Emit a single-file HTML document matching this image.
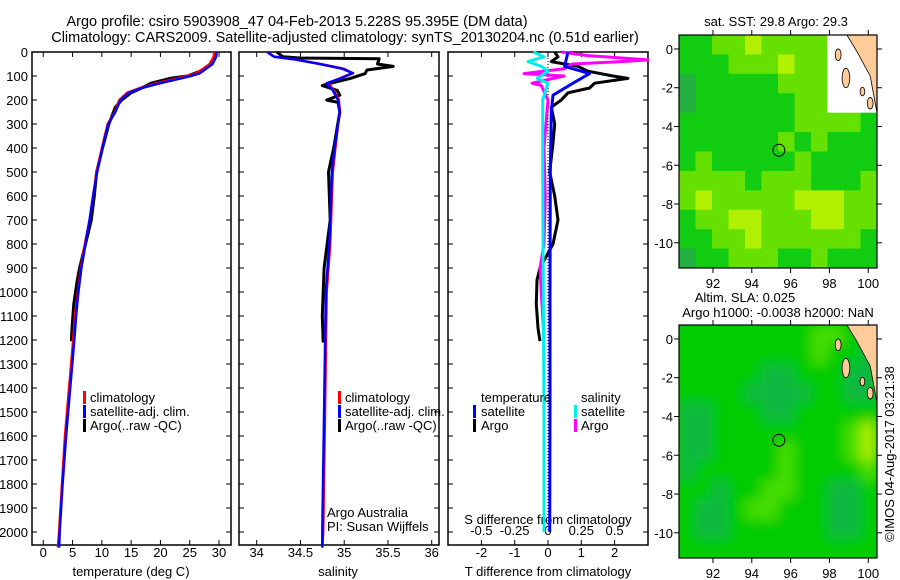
<!DOCTYPE html>
<html><head><meta charset="utf-8">
<style>
body{margin:0;background:#fff;}
svg{display:block;font-family:"Liberation Sans",sans-serif;}
text{font-size:13px;fill:#000;}
</style></head>
<body>
<svg id="chart" width="900" height="580" viewBox="0 0 900 580" xmlns="http://www.w3.org/2000/svg">
<text x="297" y="26" text-anchor="middle" style="font-size:14.5px">Argo profile: csiro 5903908_47 04-Feb-2013 5.228S 95.395E (DM data)</text>
<text x="345" y="42" text-anchor="middle" style="font-size:14.5px">Climatology: CARS2009. Satellite-adjusted climatology: synTS_20130204.nc (0.51d earlier)</text>
<text x="776" y="26" text-anchor="middle">sat. SST: 29.8 Argo: 29.3</text>
<text x="745" y="302" text-anchor="middle">Altim. SLA: 0.025</text>
<text x="778" y="317" text-anchor="middle">Argo h1000: -0.0038 h2000: NaN</text>
<text transform="translate(894,454) rotate(-90)" text-anchor="middle">©IMOS 04-Aug-2017 03:21:38</text>
<g id="plots"></g>
</svg>
<script>
// ---- data ----
const tDepth = [0,20,50,70,90,100,130,150,170,200,250,300,400,500,600,700,800,900,1000,1100,1200,1400,1600,1800,2000,2065];
const tClim  = [29.2,29.1,28.4,27.3,26,24.5,19.4,16.5,14.3,13,12.2,11,10,9.1,8.5,7.9,7.1,6.4,5.9,5.4,5.1,4.4,3.7,3.2,2.7,2.5];
const tSat   = [29.6,29.5,28.9,27.8,26.6,25.2,20.0,16.8,14.6,13.2,12.3,11.1,10.1,9.2,8.5,7.9,7.2,6.5,6.0,5.6,5.3,4.6,3.9,3.3,2.8,2.7];
const tArgoDepth = [0,20,40,60,80,100,110,130,150,170,200,230,300,400,500,600,700,800,900,950,1050,1150,1205];
const tArgo  = [29.4,29.4,29.0,28.2,26.8,24.6,21.6,18.4,16.8,15.0,13.4,12.3,11.2,10.1,9.1,8.7,8.2,7.2,6.2,5.8,5.2,4.9,4.8];
const sDepth = [0,20,30,50,70,88,110,130,160,200,250,300,400,500,600,800,1000,1500,2000,2065];
const sClim  = [34.12,34.2,34.42,34.73,35.0,35.09,34.95,34.82,34.88,34.94,34.95,34.93,34.9,34.87,34.86,34.84,34.8,34.78,34.76,34.75];
const sSat   = [34.12,34.2,34.42,34.72,34.98,35.1,34.96,34.8,34.87,34.93,34.95,34.93,34.89,34.86,34.85,34.83,34.79,34.77,34.75,34.75];
const sArgoDepth = [0,20,25,28,50,60,75,90,110,125,140,160,180,200,210,250,400,500,700,900,1000,1100,1210];
const sArgo  = [34.23,34.3,34.49,35.4,35.38,35.56,35.26,35.24,35.07,34.9,34.75,34.92,34.95,34.8,34.93,34.95,34.88,34.82,34.84,34.77,34.76,34.75,34.76];
const dTDepth = [0,20,40,60,80,100,110,130,150,170,200,230,300,380,500,600,700,800,900,950,1050,1150,1205];
const dTArgo = [0.2,0.3,0.1,0.9,1.2,1.95,2.4,1.4,1.25,0.6,0.4,0.1,0.2,0.15,0.05,0.2,0.3,0.15,-0.24,-0.33,-0.35,-0.3,-0.24];
const dTSatDepth = [0,30,60,90,130,180,250,500,1000,1500,2000];
const dTSat  = [0.6,0.55,0.5,1.25,0.75,0.15,0.1,0.07,0.06,0.06,0.05];
const dSDepth = [0,15,33,40,50,70,90,100,130,140,200,400,600,800,900,1000,1100,1200];
const dSArgo = [0.1,0.3,0.75,0.55,0.18,0.12,-0.18,0.12,-0.12,-0.05,0,-0.03,-0.02,-0.03,-0.06,-0.05,-0.04,-0.03];
const dSSatDepth = [0,20,40,60,80,110,130,200,500,1000,1500,2000];
const dSSat  = [-0.11,-0.03,-0.15,-0.05,0,-0.08,0,-0.04,-0.04,-0.035,-0.03,-0.03];
const depthTicks = [0,100,200,300,400,500,600,700,800,900,1000,1100,1200,1300,1400,1500,1600,1700,1800,1900,2000];
const tTicks = [0,5,10,15,20,25,30];
const sTicks = [34,34.5,35,35.5,36];
const dTTicks = [-2,-1,0,1,2];
const dSTicks = [-0.5,-0.25,0,0.25,0.5];
const lonTicks = [92,94,96,98,100];
const latTicks = [0,-2,-4,-6,-8,-10];
// SST grid levels (rows lat 0.7 -> -11.3, cols lon 90.25 -> 100.45); 9 = no data
const sstGrid = [
[1,1,2,2,3,2,2,2,2,9,9,9],
[1,1,1,2,2,2,3,2,2,9,9,9],
[0,1,1,1,1,1,2,2,2,9,9,9],
[0,1,1,1,1,1,1,2,2,9,9,9],
[1,1,1,1,1,1,1,2,2,2,2,1],
[1,1,1,1,1,1,2,1,2,1,1,1],
[1,2,1,1,1,1,1,2,1,1,1,1],
[2,2,2,2,1,2,2,2,1,1,1,2],
[2,3,2,2,2,2,2,3,3,3,2,2],
[1,2,2,3,3,2,2,2,3,3,2,2],
[1,1,2,2,3,2,2,2,2,2,2,1],
[0,1,1,2,2,2,1,1,2,1,1,1]];
const slaGrid = [
[1,1,1,1,1,1,1,1,2,2,1,1],
[1,1,1,1,1,1,1,1,2,1,1,0],
[1,1,1,1,1,0,0,1,1,1,0,0],
[1,1,1,1,0,0,0,0,1,1,0,0],
[0,0,1,1,1,0,0,1,1,1,1,1],
[0,0,1,1,1,1,1,1,1,1,2,3],
[0,0,1,1,1,1,2,1,1,1,2,3],
[0,1,1,1,1,1,2,1,1,1,1,2],
[1,1,0,1,1,2,2,1,1,0,0,1],
[1,0,0,1,2,2,1,1,1,0,0,1],
[1,0,0,1,1,1,1,1,1,0,0,1],
[1,1,1,1,1,1,1,1,1,1,1,1]];
const sstColors = ["#22b040","#11cc11","#66e000","#b0f000"];
const slaColors = ["#10b840","#00cc00","#44dd00","#aaee00"];

// ---- drawing ----
const NS="http://www.w3.org/2000/svg";
const root=document.getElementById('plots');
function el(tag,attrs,parent){const e=document.createElementNS(NS,tag);for(const k in attrs)e.setAttribute(k,attrs[k]);(parent||root).appendChild(e);return e;}
function lin(d0,d1,r0,r1){return v=>r0+(v-d0)/(d1-d0)*(r1-r0);}
const Y=lin(0,2000,52,532);
const TOP=52,BOT=545;

function panel(x0,x1,name){
  const r=el('rect',{x:x0,y:TOP,width:x1-x0,height:BOT-TOP,fill:'none',stroke:'#000','stroke-width':1.5});
  
  
}
function xTicks(ticks,X,x0,x1,labelY,name,top){
  ticks.forEach(t=>{
    const x=X(t);
    el('line',{x1:x,x2:x,y1:BOT,y2:BOT-5,stroke:'#000'});
    if(top) el('line',{x1:x,x2:x,y1:TOP,y2:TOP+5,stroke:'#000'});
    if(labelY){const tx=el('text',{x:x,y:labelY,'text-anchor':'middle'});tx.textContent=String(t);
      
      }
  });
}
function series(depths,vals,X,color,name,w){
  const p=el('polyline',{points:depths.map((d,i)=>X(vals[i]).toFixed(1)+','+Y(d).toFixed(1)).join(' '),fill:'none',stroke:color,'stroke-width':w||2.5,'stroke-linejoin':'round'});
  
  
}
function label(x,y,s,name,anchor){const t=el('text',{x:x,y:y,'text-anchor':anchor||'start'});t.textContent=s;
  
  return t;}
function legBar(x,y,color){el('rect',{x:x,y:y-11,width:3,height:13,fill:color});}

// panel 1: temperature
const XT=lin(0,30,43.3,219);
panel(32,231,'temperature-panel');
depthTicks.forEach(d=>{el('line',{x1:32,x2:37,y1:Y(d),y2:Y(d),stroke:'#000'});el('line',{x1:231,x2:226,y1:Y(d),y2:Y(d),stroke:'#000'});
  label(28,Y(d)+5,String(d),'depth-tick-label','end');});
xTicks(tTicks,XT,32,231,557,'temperature-tick-label',true);
label(131,576,'temperature (deg C)','temperature-axis-title','middle');
series(tArgoDepth,tArgo,XT,'#000','temperature-argo-line',3);
series(tDepth,tClim,XT,'#f00','temperature-climatology-line');
series(tDepth,tSat,XT,'#00f','temperature-satellite-line');
legBar(83,402,'#f00');label(90,402,'climatology','legend-climatology');
legBar(83,416,'#00f');label(90,416,'satellite-adj. clim.','legend-satellite');
legBar(83,430,'#000');label(90,430,'Argo(..raw -QC)','legend-argo');

// panel 2: salinity
const XS=lin(34,36,256.7,431.7);
panel(239,439,'salinity-panel');
depthTicks.forEach(d=>{el('line',{x1:239,x2:244,y1:Y(d),y2:Y(d),stroke:'#000'});el('line',{x1:439,x2:434,y1:Y(d),y2:Y(d),stroke:'#000'});});
xTicks(sTicks,XS,239,439,557,'salinity-tick-label',true);
label(338,576,'salinity','salinity-axis-title','middle');
series(sArgoDepth,sArgo,XS,'#000','salinity-argo-line',3);
series(sDepth,sClim,XS,'#f00','salinity-climatology-line');
series(sDepth,sSat,XS,'#00f','salinity-satellite-line');
legBar(338,402,'#f00');label(345,402,'climatology','legend-climatology');
legBar(338,416,'#00f');label(345,416,'satellite-adj. clim.','legend-satellite');
legBar(338,430,'#000');label(345,430,'Argo(..raw -QC)','legend-argo');
label(327,517,'Argo Australia','credit-argo-australia');
label(327,531,'PI: Susan Wijffels','credit-pi');

// panel 3: differences
const XD=lin(0,1,548,581.3);
const XDS=v=>XD(v*4);
panel(448,648,'difference-panel');
depthTicks.forEach(d=>{el('line',{x1:448,x2:453,y1:Y(d),y2:Y(d),stroke:'#000'});el('line',{x1:648,x2:643,y1:Y(d),y2:Y(d),stroke:'#000'});});
xTicks(dTTicks,XD,448,648,557,'t-diff-tick-label',true);
dSTicks.forEach(t=>label(XDS(t),535,String(t),'s-diff-tick-label','middle'));
label(548,524,'S difference from climatology','s-diff-axis-title','middle');
label(548,576,'T difference from climatology','t-diff-axis-title','middle');
el('line',{x1:XD(0),x2:XD(0),y1:TOP,y2:Y(2000),stroke:'#000','stroke-dasharray':'1,2'});
series(dTDepth,dTArgo,XD,'#000','t-diff-argo-line',3);
series(dSDepth,dSArgo,XDS,'#f0f','s-diff-argo-line',3);
series(dTSatDepth,dTSat,XD,'#00f','t-diff-satellite-line',3);
series(dSSatDepth,dSSat,XDS,'#0ee','s-diff-satellite-line',3);
label(481,402,'temperature','legend-temperature-header');
legBar(473,416,'#00f');label(481,416,'satellite','legend-t-satellite');
legBar(473,430,'#000');label(481,430,'Argo','legend-t-argo');
label(581,402,'salinity','legend-salinity-header');
legBar(574,416,'#0ee');label(581,416,'satellite','legend-s-satellite');
legBar(574,430,'#f0f');label(581,430,'Argo','legend-s-argo');

// maps
function map(top,grid,colors,name,blur){
  const x0=679,x1=877,h=233;
  const LON=lin(90.25,100.45,x0,x1), LAT=lin(0.72,-11.3,top,top+h);
  const g=el('g',{});
  
  
  const cid='clip'+top;
  const cp=el('clipPath',{id:cid},g);el('rect',{x:x0,y:top,width:x1-x0,height:h},cp);
  const cells=el('g',{'clip-path':'url(#'+cid+')'},g);
  el('rect',{x:x0,y:top,width:x1-x0,height:h,fill:colors[1]},cells);
  const inner=el('g',blur?{filter:'url(#bl)'}:{},cells);
  const cw=(x1-x0)/grid[0].length, ch=h/grid.length;
  grid.forEach((row,r)=>row.forEach((v,c)=>{
    el('rect',{x:x0+c*cw,y:top+r*ch,width:cw+0.6,height:ch+0.6,fill:v===9?'#fff':colors[v]},inner);
  }));
  if(!blur) el('rect',{x:LON(97.9),y:top,width:LON(100.45)-LON(97.9),height:LAT(-2.9)-top,fill:'#fff'},cells);
  el('polygon',{points:[[98.9,0.72],[99.4,-0.1],[100.1,-1.4],[100.45,-3.3],[100.45,0.72]].map(p=>LON(p[0])+','+LAT(p[1])).join(' '),fill:'#ffcc99',stroke:'#000','stroke-width':0.8},cells);
  [[98.45,-0.3,0.15,0.3],[98.85,-1.5,0.2,0.5],[99.7,-2.2,0.12,0.22],[100.1,-2.8,0.15,0.3]].forEach(e=>el('ellipse',{cx:LON(e[0]),cy:LAT(e[1]),rx:e[2]*19.4,ry:e[3]*19.4,fill:'#ffcc99',stroke:'#000','stroke-width':0.8},cells));
  el('circle',{cx:LON(95.395),cy:LAT(-5.228),r:6,fill:'none',stroke:'#000','stroke-width':1},g);
  el('rect',{x:x0,y:top,width:x1-x0,height:h,fill:'none',stroke:'#000','stroke-width':1.2},g);
  lonTicks.forEach(t=>{el('line',{x1:LON(t),x2:LON(t),y1:top+h,y2:top+h+5,stroke:'#000'},g);el('line',{x1:LON(t),x2:LON(t),y1:top,y2:top-5,stroke:'#000'},g);
    label(LON(t),top+h+20,String(t),'lon-tick-label','middle');});
  latTicks.forEach(t=>{el('line',{x1:x0,x2:x0-5,y1:LAT(t),y2:LAT(t),stroke:'#000'},g);el('line',{x1:x1,x2:x1+5,y1:LAT(t),y2:LAT(t),stroke:'#000'},g);
    label(673,LAT(t)+5,String(t),'lat-tick-label','end');});
}
const defs=el('defs',{});const f=el('filter',{id:'bl',x:'0',y:'0',width:'1',height:'1'},defs);el('feGaussianBlur',{stdDeviation:6,edgeMode:'duplicate'},f);
map(35,sstGrid,sstColors,'sst-map',false);
map(325,slaGrid,slaColors,'sla-map',true);
</script>
</body></html>
